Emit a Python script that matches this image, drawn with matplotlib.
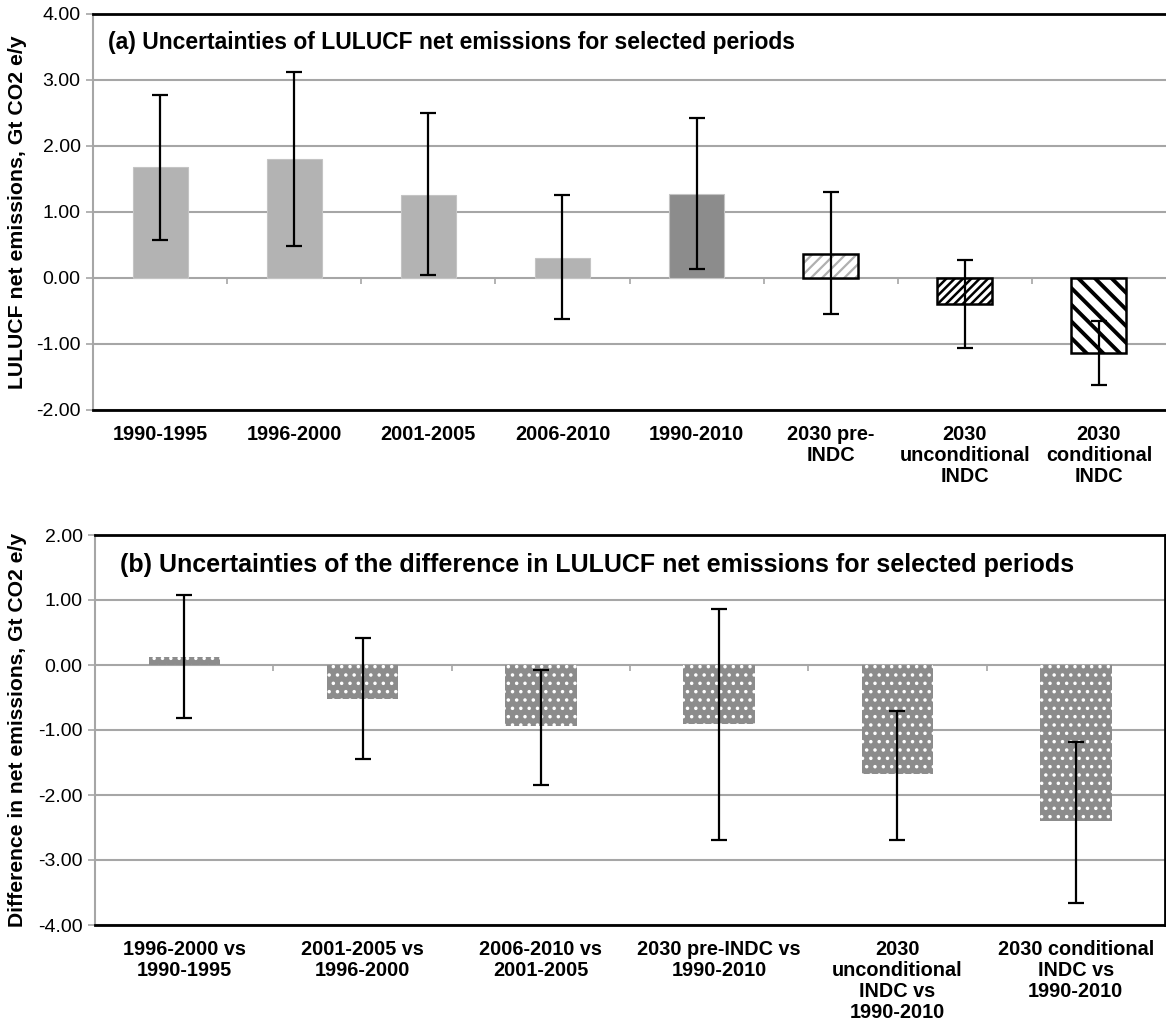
import matplotlib
matplotlib.use("Agg")
import matplotlib.pyplot as plt
import numpy as np

plt.rcParams['font.family'] = ['Liberation Sans', 'DejaVu Sans']

# Panel (a): net emissions per period
periods_a = ['1990-1995', '1996-2000', '2001-2005', '2006-2010', '1990-2010',
             '2030 pre-\nINDC', '2030\nunconditional\nINDC', '2030\nconditional\nINDC']
net_a = [1.68, 1.81, 1.26, 0.30, 1.28, 0.37, -0.40, -1.13]
low_a = [0.58, 0.49, 0.05, -0.62, 0.14, -0.55, -1.06, -1.62]
high_a = [2.78, 3.12, 2.50, 1.26, 2.42, 1.30, 0.27, -0.65]

# Panel (b): differences between periods
periods_b = ['1996-2000 vs\n1990-1995', '2001-2005 vs\n1996-2000', '2006-2010 vs\n2001-2005',
             '2030 pre-INDC vs\n1990-2010', '2030\nunconditional\nINDC vs\n1990-2010',
             '2030 conditional\nINDC vs\n1990-2010']
net_b = [0.12, -0.52, -0.94, -0.90, -1.68, -2.40]
low_b = [-0.82, -1.45, -1.85, -2.69, -2.69, -3.66]
high_b = [1.07, 0.41, -0.07, 0.86, -0.71, -1.19]

GRID = '#a6a6a6'
plt.rcParams['hatch.linewidth'] = 1.5

fig = plt.figure(figsize=(11.66, 10.35), dpi=100)
W, H = 1166, 1035
ax1 = fig.add_axes([93 / W, 1 - 410 / H, (W - 93) / W, (410 - 14) / H])
ax2 = fig.add_axes([95 / W, 1 - 925 / H, (1165 - 95) / W, (925 - 535) / H])


def set_hlw(p, lw):
    if hasattr(p, 'set_hatch_linewidth'):
        p.set_hatch_linewidth(lw)


def style_axes(ax, labels, ylim, right_spine):
    n = len(labels)
    x = np.arange(n)
    ax.set_xlim(-0.5, n - 0.5)
    ax.set_ylim(*ylim)
    ax.set_yticks(np.arange(ylim[0], ylim[1] + 0.5, 1.0))
    ax.yaxis.set_major_formatter(matplotlib.ticker.FormatStrFormatter('%.2f'))
    ax.yaxis.grid(True, color=GRID, lw=1.5)
    ax.set_axisbelow(True)
    ax.set_xticks(x)
    ax.set_xticklabels(labels, fontweight='bold', fontsize=14.3, linespacing=1.12, va='top')
    ax.tick_params(axis='x', length=0, pad=11)
    ax.tick_params(axis='y', length=5, width=1.2, color=GRID, labelsize=14, pad=4)
    ax.spines['left'].set_color(GRID)
    ax.spines['left'].set_linewidth(1.5)
    for s in ('top', 'bottom'):
        ax.spines[s].set_color('black')
        ax.spines[s].set_linewidth(2)
    ax.spines['right'].set_visible(right_spine)
    ax.spines['right'].set_color('black')
    ax.spines['right'].set_linewidth(2)
    # category separators on the zero line
    loc = (0 - ylim[0]) / (ylim[1] - ylim[0])
    sec = ax.secondary_xaxis(loc)
    sec.set_alignment('bottom')
    sec.set_xticks(np.arange(n - 1) + 0.5)
    sec.tick_params(axis='x', length=4, width=1.2, color=GRID, labelbottom=False, labeltop=False)
    for s in sec.spines.values():
        s.set_visible(False)
    return x


# ---- panel (a)
x1 = style_axes(ax1, periods_a, (-2, 4), False)
bars = ax1.bar(x1, net_a, width=0.41, zorder=2)
fills = ['#b3b3b3'] * 4 + ['#8c8c8c', 'white', 'white', 'white']
for i, b in enumerate(bars):
    b.set_facecolor(fills[i])
    if i < 5:
        b.set_edgecolor('#c4c4c4')
        b.set_linewidth(0.8)
    elif i == 5:
        b.set_edgecolor('#b0b0b0')
        b.set_linewidth(0)
        b.set_hatch('///')
        set_hlw(b, 1.6)
    elif i == 6:
        b.set_edgecolor('black')
        b.set_linewidth(1.8)
        b.set_hatch('////')
        set_hlw(b, 1.8)
    else:
        b.set_edgecolor('black')
        b.set_linewidth(1.8)
        b.set_hatch('\\\\')
        set_hlw(b, 2.8)
# black outline for the pre-INDC bar
ax1.bar(x1[5:6], net_a[5:6], width=0.41, fill=False, edgecolor='black', lw=1.8, zorder=2)

na, la, ha = np.array(net_a), np.array(low_a), np.array(high_a)
ax1.errorbar(x1, na, yerr=[na - la, ha - na], fmt='none', ecolor='black',
             elinewidth=1.6, capsize=6, capthick=1.6, zorder=3)
ax1.text(0.014, 0.929, '(a) Uncertainties of LULUCF net emissions for selected periods',
         transform=ax1.transAxes, fontsize=16.5, fontweight='bold', va='center')

# ---- panel (b)
x2 = style_axes(ax2, periods_b, (-4, 2), True)
bars = ax2.bar(x2, net_b, width=0.40, color='#8c8c8c', edgecolor='white', lw=0,
               hatch='..', zorder=2)
for b in bars:
    set_hlw(b, 1.3)
nb, lb, hb = np.array(net_b), np.array(low_b), np.array(high_b)
ax2.errorbar(x2, nb, yerr=[nb - lb, hb - nb], fmt='none', ecolor='black',
             elinewidth=1.6, capsize=6, capthick=1.6, zorder=3)
ax2.text(0.023, 0.923, '(b) Uncertainties of the difference in LULUCF net emissions for selected periods',
         transform=ax2.transAxes, fontsize=18, fontweight='bold', va='center')

fig.text(18 / W, 1 - 212 / H, 'LULUCF net emissions, Gt CO2 e/y', rotation=90,
         fontsize=15.3, fontweight='bold', ha='center', va='center')
fig.text(18 / W, 1 - 730 / H, 'Difference in net emissions, Gt CO2 e/y', rotation=90,
         fontsize=15.2, fontweight='bold', ha='center', va='center')

fig.savefig('out.png', dpi=100)
